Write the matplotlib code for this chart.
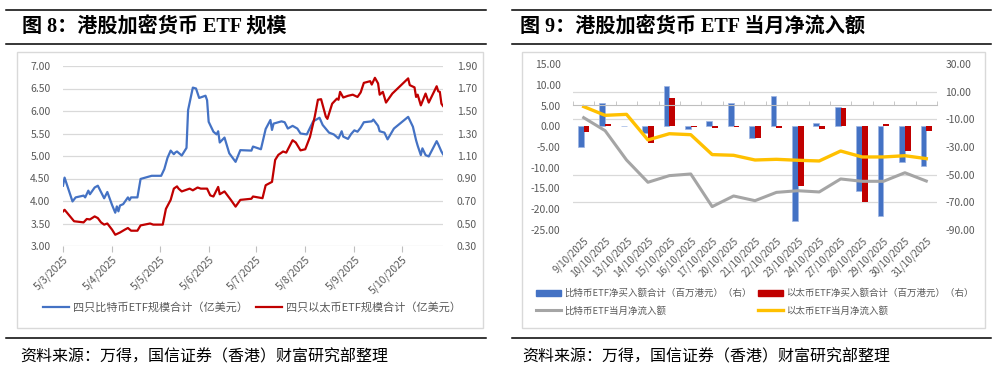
import matplotlib
matplotlib.use('Agg')
import matplotlib.pyplot as plt
import matplotlib.dates as mdates
from matplotlib.ticker import FuncFormatter, FormatStrFormatter
from matplotlib.patches import Rectangle, Patch
from matplotlib.lines import Line2D
import numpy as np
import pandas as pd

plt.rcParams['font.family'] = ['Noto Sans CJK SC', 'DejaVu Sans']

# 图8 data (billion USD)
btc_dates = ['2025-03-05', '2025-03-06', '2025-03-11', '2025-03-13', '2025-03-18', '2025-03-19', '2025-03-21', '2025-03-22', '2025-03-25', '2025-03-27',
             '2025-03-31', '2025-04-02', '2025-04-05', '2025-04-07', '2025-04-08', '2025-04-09', '2025-04-10', '2025-04-12', '2025-04-15', '2025-04-16',
             '2025-04-17', '2025-04-21', '2025-04-23', '2025-04-26', '2025-04-30', '2025-05-06', '2025-05-08', '2025-05-10', '2025-05-12', '2025-05-14',
             '2025-05-15', '2025-05-16', '2025-05-19', '2025-05-22', '2025-05-23', '2025-05-26', '2025-05-28', '2025-05-30', '2025-06-03', '2025-06-04',
             '2025-06-05', '2025-06-08', '2025-06-10', '2025-06-11', '2025-06-12', '2025-06-15', '2025-06-18', '2025-06-22', '2025-06-25', '2025-07-02',
             '2025-07-03', '2025-07-08', '2025-07-11', '2025-07-14', '2025-07-15', '2025-07-16', '2025-07-21', '2025-07-23', '2025-07-25', '2025-07-28',
             '2025-07-31', '2025-08-02', '2025-08-06', '2025-08-10', '2025-08-14', '2025-08-16', '2025-08-20', '2025-08-23', '2025-08-26', '2025-08-28',
             '2025-08-29', '2025-09-01', '2025-09-03', '2025-09-05', '2025-09-07', '2025-09-09', '2025-09-11', '2025-09-16', '2025-09-17', '2025-09-20',
             '2025-09-21', '2025-09-24', '2025-09-26', '2025-09-30', '2025-10-09', '2025-10-12', '2025-10-14', '2025-10-15', '2025-10-17', '2025-10-18',
             '2025-10-20', '2025-10-22', '2025-10-27', '2025-10-28', '2025-10-30', '2025-10-31']
btc_size = [4.34, 4.52, 3.99, 4.08, 4.12, 4.08, 4.23, 4.15, 4.30, 4.34,
            4.06, 4.20, 3.91, 3.74, 3.88, 3.77, 3.90, 3.93, 4.08, 4.02,
            4.08, 4.08, 4.49, 4.52, 4.56, 4.56, 4.71, 4.96, 5.12, 5.04,
            5.08, 5.10, 5.01, 5.18, 6.02, 6.52, 6.50, 6.29, 6.34, 6.24,
            5.76, 5.54, 5.48, 5.55, 5.30, 5.41, 5.06, 4.87, 5.13, 5.12,
            5.21, 5.15, 5.60, 5.80, 5.58, 5.72, 5.77, 5.75, 5.61, 5.67,
            5.61, 5.50, 5.48, 5.77, 5.85, 5.69, 5.52, 5.48, 5.39, 5.55,
            5.43, 5.38, 5.49, 5.57, 5.54, 5.63, 5.75, 5.77, 5.81, 5.67,
            5.55, 5.52, 5.37, 5.61, 5.87, 5.65, 5.35, 5.23, 5.02, 5.17,
            5.02, 4.99, 5.33, 5.26, 5.10, 5.04]

eth_dates = ['2025-03-05', '2025-03-06', '2025-03-12', '2025-03-18', '2025-03-20', '2025-03-22', '2025-03-25', '2025-03-27', '2025-03-29', '2025-03-31',
             '2025-04-02', '2025-04-05', '2025-04-07', '2025-04-10', '2025-04-13', '2025-04-15', '2025-04-17', '2025-04-21', '2025-04-23', '2025-04-29',
             '2025-05-01', '2025-05-07', '2025-05-09', '2025-05-12', '2025-05-14', '2025-05-16', '2025-05-17', '2025-05-19', '2025-05-22', '2025-05-24',
             '2025-05-26', '2025-05-29', '2025-05-31', '2025-06-04', '2025-06-06', '2025-06-08', '2025-06-11', '2025-06-12', '2025-06-15', '2025-06-19',
             '2025-06-22', '2025-06-25', '2025-07-02', '2025-07-03', '2025-07-09', '2025-07-11', '2025-07-15', '2025-07-17', '2025-07-19', '2025-07-22',
             '2025-07-24', '2025-07-28', '2025-07-30', '2025-08-02', '2025-08-05', '2025-08-08', '2025-08-11', '2025-08-13', '2025-08-15', '2025-08-18',
             '2025-08-19', '2025-08-22', '2025-08-25', '2025-08-26', '2025-08-27', '2025-08-29', '2025-09-01', '2025-09-04', '2025-09-07', '2025-09-09',
             '2025-09-11', '2025-09-15', '2025-09-16', '2025-09-18', '2025-09-20', '2025-09-21', '2025-09-23', '2025-09-25', '2025-09-29', '2025-10-09',
             '2025-10-10', '2025-10-13', '2025-10-14', '2025-10-15', '2025-10-17', '2025-10-20', '2025-10-22', '2025-10-27', '2025-10-28', '2025-10-29',
             '2025-10-30', '2025-10-31']
eth_size = [0.607, 0.622, 0.52, 0.51, 0.54, 0.536, 0.563, 0.548, 0.51, 0.49,
            0.50, 0.445, 0.40, 0.42, 0.445, 0.46, 0.436, 0.436, 0.483, 0.50,
            0.49, 0.49, 0.63, 0.71, 0.81, 0.83, 0.81, 0.785, 0.80, 0.81,
            0.795, 0.82, 0.81, 0.81, 0.75, 0.74, 0.825, 0.76, 0.785, 0.71,
            0.65, 0.71, 0.72, 0.74, 0.725, 0.84, 0.87, 1.065, 1.11, 1.14,
            1.13, 1.24, 1.22, 1.15, 1.16, 1.27, 1.45, 1.60, 1.605, 1.45,
            1.43, 1.565, 1.61, 1.60, 1.67, 1.62, 1.635, 1.645, 1.625, 1.665,
            1.75, 1.765, 1.735, 1.795, 1.745, 1.645, 1.67, 1.575, 1.655, 1.79,
            1.73, 1.71, 1.625, 1.645, 1.55, 1.655, 1.575, 1.72, 1.675, 1.67,
            1.565, 1.545]

# 图9 data
flow_days = ['9/10/2025', '10/10/2025', '13/10/2025', '14/10/2025', '15/10/2025', '16/10/2025', '17/10/2025', '20/10/2025', '21/10/2025',
             '22/10/2025', '23/10/2025', '24/10/2025', '27/10/2025', '28/10/2025', '29/10/2025', '30/10/2025', '31/10/2025']
btc_net_buy = [-5.1, 5.7, 0, -1.7, 9.7, -0.7, 1.2, 5.5, -2.8, 7.2, -22.8, 0.9, 4.7, -15.6, -21.7, -8.5, -9.6]
eth_net_buy = [-1.3, 0.5, 0, -4.0, 6.7, -0.3, -0.4, -0.3, -2.8, -0.4, -14.4, -0.6, 4.5, -18.3, 0.5, -5.9, -1.2]
btc_month_flow = [-8.8, -18.2, -39.4, -55.5, -50.7, -49.5, -73.1, -65.4, -68.8, -62.8, -61.6, -62.5, -53.1, -54.8, -54.8, -48.6, -54.6]
eth_month_flow = [-0.8, -7.1, -6.4, -24.9, -20.4, -21.1, -35.5, -36.0, -39.4, -38.9, -39.6, -40.1, -32.9, -37.2, -37.2, -36.3, -38.4]

BLUE = '#4472C4'
RED = '#C00000'
GRAY = '#A5A5A5'
GOLD = '#FFC000'
TXT = '#595959'
GRID = '#D9D9D9'
W, H = 996, 371


def fx(px):
    return px / W


def fy(py):
    return 1 - py / H


fig = plt.figure(figsize=(W / 100, H / 100), dpi=100)

# frame: rules, boxes, titles, sources
for x0, x1 in [(6, 486), (512, 991)]:
    for y in [10, 44, 338]:
        fig.add_artist(Line2D([fx(x0), fx(x1)], [fy(y), fy(y)], color='black', lw=1.1, transform=fig.transFigure))
for x0, x1 in [(17, 483), (522, 985)]:
    fig.add_artist(Rectangle((fx(x0), fy(328)), fx(x1) - fx(x0), fy(52) - fy(328), fill=False,
                             edgecolor=GRID, lw=1, transform=fig.transFigure))

title_font = dict(fontsize=14.5, weight='bold', va='center', family=['Liberation Serif', 'Noto Sans CJK SC'])
fig.text(fx(22), fy(27), '图 8：港股加密货币 ETF 规模', **title_font)
fig.text(fx(520), fy(27), '图 9：港股加密货币 ETF 当月净流入额', **title_font)
src = '资料来源：万得，国信证券（香港）财富研究部整理'
fig.text(fx(20), fy(357), src, fontsize=11.5, va='center')
fig.text(fx(522), fy(357), src, fontsize=11.5, va='center')

# ---- 图8
d_btc = pd.to_datetime(btc_dates)
d_eth = pd.to_datetime(eth_dates)
ax1 = fig.add_axes([fx(63), fy(246), fx(443) - fx(63), fy(66) - fy(246)])
ax1.plot(d_btc, btc_size, color=BLUE, lw=1.6)
ax1.set_ylim(3, 7)
ax1.set_yticks(np.arange(3, 7.01, 0.5))
ax1.yaxis.set_major_formatter(FormatStrFormatter('%.2f'))
ax1.set_xlim(pd.Timestamp('2025-03-05'), pd.Timestamp('2025-10-31'))
ax1.xaxis.set_major_locator(mdates.MonthLocator(bymonthday=5))
ax1.xaxis.set_major_formatter(FuncFormatter(
    lambda v, p: '{d.day}/{d.month}/{d.year}'.format(d=mdates.num2date(v))))
ax1.yaxis.grid(True, color=GRID, lw=0.9)
ax1.set_axisbelow(True)
ax1.tick_params(axis='y', length=0, labelsize=7.5, labelcolor=TXT, pad=9)
ax1.tick_params(axis='x', length=4, color='#BFBFBF', labelsize=7.5, labelcolor=TXT, pad=2)
for lab in ax1.get_xticklabels():
    lab.set_rotation(45)
    lab.set_ha('right')
    lab.set_rotation_mode('anchor')

ax1r = ax1.twinx()
ax1r.plot(d_eth, eth_size, color=RED, lw=1.6)
ax1r.set_ylim(0.3, 1.9)
ax1r.set_yticks(np.arange(0.3, 1.91, 0.2))
ax1r.yaxis.set_major_formatter(FormatStrFormatter('%.2f'))
ax1r.tick_params(axis='y', length=0, labelsize=7.5, labelcolor=TXT, pad=10)
for a in (ax1, ax1r):
    for s in a.spines.values():
        s.set_visible(False)

fig.legend([Line2D([], [], color=BLUE, lw=1.6), Line2D([], [], color=RED, lw=1.6)],
           ['四只比特币ETF规模合计（亿美元）', '四只以太币ETF规模合计（亿美元）'],
           loc='center', bbox_to_anchor=(fx(252), fy(307)), ncol=2, frameon=False,
           fontsize=8, labelcolor=TXT, handlelength=2.3, handletextpad=0.35, columnspacing=0.8)

# ---- 图9
x = np.arange(len(flow_days))
bw = 0.27
ax2 = fig.add_axes([fx(573), fy(230), fx(937) - fx(573), fy(64) - fy(230)])
ax2.bar(x - bw / 2, btc_net_buy, bw, color=BLUE, edgecolor='#9DB5E3', lw=0.5)
ax2.bar(x + bw / 2, eth_net_buy, bw, color=RED)
ax2.set_xlim(-0.5, len(flow_days) - 0.5)
ax2.set_ylim(-25, 15)
ax2.set_yticks(np.arange(-25, 15.1, 5))
ax2.yaxis.set_major_formatter(FormatStrFormatter('%.2f'))
ax2.set_xticks(x)
ax2.set_xticklabels(flow_days, rotation=45, ha='right', rotation_mode='anchor')
ax2.set_xticks(np.arange(len(flow_days) + 1) - 0.5, minor=True)
ax2.tick_params(axis='x', which='both', length=0, labelsize=7, labelcolor=TXT, pad=4)
ax2.tick_params(axis='y', length=0, labelsize=7.5, labelcolor=TXT, pad=9)

r_lo, r_hi = -90, 30
r_ticks = np.arange(r_lo, r_hi + 0.1, 20)
# gridlines follow the right axis; drawn on the left axes so bars sit over them
ax2.set_yticks(-25 + (r_ticks - r_lo) * 40 / (r_hi - r_lo), minor=True)
ax2.tick_params(axis='y', which='minor', length=0)
ax2.yaxis.grid(True, which='minor', color=GRID, lw=0.9)
ax2.set_axisbelow(True)

ax2r = ax2.twinx()
ax2r.plot(x, btc_month_flow, color=GRAY, lw=2.2)
ax2r.plot(x, eth_month_flow, color=GOLD, lw=2.4)
ax2r.set_ylim(r_lo, r_hi)
ax2r.set_yticks(r_ticks)
ax2r.yaxis.set_major_formatter(FormatStrFormatter('%.2f'))
ax2r.tick_params(axis='y', length=0, labelsize=7.5, labelcolor=TXT, pad=6)
for a in (ax2, ax2r):
    for s in a.spines.values():
        s.set_visible(False)
# category axis crosses at zero of the right axis
ax2r.xaxis.set_visible(True)
ax2r.spines['bottom'].set_visible(True)
ax2r.spines['bottom'].set_position(('data', 0))
ax2r.spines['bottom'].set_color('#BFBFBF')
ax2r.tick_params(axis='x', which='major', length=0, labelbottom=False)
ax2r.tick_params(axis='x', which='minor', length=3, direction='in', color='#BFBFBF')

fig.legend([Patch(color=BLUE), Line2D([], [], color=GRAY, lw=2.2),
            Patch(color=RED), Line2D([], [], color=GOLD, lw=2.4)],
           ['比特币ETF净买入额合计（百万港元）（右）', '比特币ETF当月净流入额',
            '以太币ETF净买入额合计（百万港元）（右）', '以太币ETF当月净流入额'],
           loc='center', bbox_to_anchor=(fx(755), fy(302)), ncol=2, frameon=False,
           fontsize=6.8, labelcolor=TXT, handlelength=2.6, handletextpad=0.35,
           columnspacing=0.7, labelspacing=0.8)

fig.savefig('out.png', dpi=100)
